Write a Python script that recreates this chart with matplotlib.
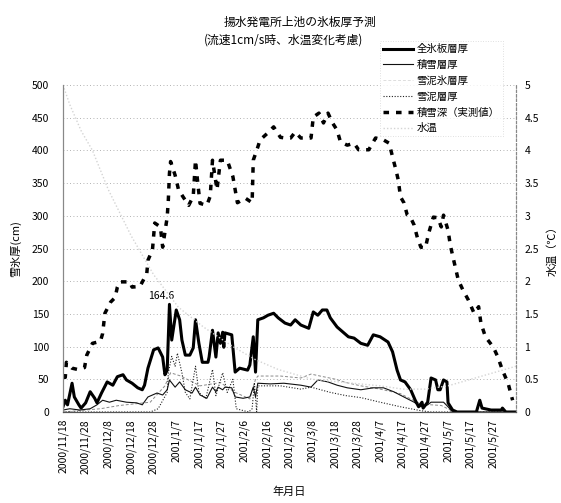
import matplotlib.pyplot as plt
from matplotlib.lines import Line2D

plt.rcParams['font.family'] = ['Noto Sans CJK JP', 'DejaVu Sans']

# days counted from 2000/11/18
tick_days = list(range(0, 200, 10))
tick_labels = ['2000/11/18', '2000/11/28', '2000/12/8', '2000/12/18', '2000/12/28',
               '2001/1/7', '2001/1/17', '2001/1/27', '2001/2/6', '2001/2/16',
               '2001/2/26', '2001/3/8', '2001/3/18', '2001/3/28', '2001/4/7',
               '2001/4/17', '2001/4/27', '2001/5/7', '2001/5/17', '2001/5/27']

# 全氷板層厚 (cm)
ice_days = [0, 1, 2, 4, 5, 7, 8, 10, 12, 14, 15, 17, 19.5, 22, 24, 26.5, 28, 30.5, 33, 35,
            36, 37.5, 40, 42, 44, 45, 46, 47, 48, 50, 51.5, 52.5, 54, 56, 57.5, 58.5, 60,
            61.5, 64, 64.5, 66, 67.5, 68.5, 69.5, 70.5, 71, 71.5, 74.5, 76, 78, 81.5, 82.5,
            84, 85, 86, 88.5, 90.5, 93, 95, 98, 100.5, 102.5, 105, 108.5, 110.5, 112.5,
            114.5, 116.5, 118, 121, 124, 126, 128.5, 131.5, 134.5, 137, 140, 143.5, 145.5,
            147.5, 149, 151, 153.5, 155.5, 157, 158.5, 159, 161, 162.5, 164.5, 165.5, 166.5,
            168, 169.5, 170, 172, 174, 182.5, 184, 185, 189, 193.5, 194, 195.5, 200]
ice_vals = [8, 18, 11, 44, 23, 11, 6, 14, 31, 21, 14, 29, 46, 41, 54, 57, 49, 44, 37, 34,
            41, 67, 95, 98, 84, 57, 64, 164.6, 110, 156, 141, 110, 87, 87, 98, 141, 105,
            76, 76, 84, 125, 84, 121, 105, 122, 99, 121, 118, 61, 67, 64, 72,
            115, 61, 141, 144, 148, 151, 144, 136, 133, 141, 133, 128, 153, 148,
            156, 156, 144, 130, 121, 115, 113, 105, 102, 118, 115, 107, 92,
            64, 49, 46, 34, 18, 8, 15, 6, 15, 52, 49, 34, 34,
            49, 46, 14, 3, 0, 0, 18, 6, 3, 3, 6, 0, 0]

# 積雪層厚 (cm)
snow_days = [0, 3, 7.5, 12, 15, 17.5, 20.5, 23.5, 28, 32.5, 35, 37.5, 41.5, 44, 46, 47, 49.5,
             51.5, 54, 57, 58.5, 60.5, 63.5, 66, 67.5, 68.5, 70.5, 71.5, 74.5, 76, 79.5, 82.5,
             84, 85, 86, 91.5, 97.5, 105, 109.5, 112.5, 117, 121, 125.5, 131.5, 137, 141.5,
             146, 150.5, 155, 158, 161, 162.5, 168, 170, 172, 200]
snow_vals = [3, 5, 3, 5, 11, 18, 15, 18, 15, 14, 11, 23, 29, 26, 34, 49, 38,
             46, 34, 29, 38, 26, 21, 38, 31, 38, 34, 38, 37, 23, 21, 23,
             38, 23, 44, 43, 44, 41, 38, 49, 46, 41, 37, 34, 37, 37,
             31, 23, 15, 8, 11, 15, 15, 8, 0, 0]

# 雪泥氷層厚 (cm)
slush_ice_days = [0, 16.5, 25, 38.5, 45, 47.5, 52, 60.5, 69.5, 76, 82.5, 85, 86, 96, 105,
                  109.5, 113.5, 120.5, 125, 131.5, 140, 149, 158, 167, 171, 173.5, 200]
slush_ice_vals = [0, 5, 10, 15, 40, 60, 55, 40, 45, 30, 20, 50, 55, 55, 52,
                  58, 55, 50, 45, 40, 35, 28, 12, 10, 3, 0, 0]

# 雪泥層厚 (cm)
slush_days = [0, 38.5, 42, 46, 46.5, 48, 49.5, 50.5, 52.5, 54, 56, 58.5, 60, 63, 66, 67.5,
              70.5, 72.5, 75, 76.5, 82, 83.5, 84.5, 85.5, 86, 96, 105, 109.5, 118, 125,
              131.5, 140, 149, 158, 162.5, 200]
slush_vals = [0, 0, 5, 30, 60, 85, 70, 90, 60, 30, 20, 70, 30, 20, 65, 25,
              60, 30, 50, 5, 0, 5, 45, 0, 40, 40, 35, 38, 30, 25,
              22, 15, 8, 2, 0, 0]

# 積雪深（実測値） (cm)
depth_days = [0, 1, 1.5, 4, 6.5, 9.5, 10.5, 13, 16.5, 17.5, 18.5, 21, 23, 24, 25, 29.5, 30.5,
              34, 37, 37.5, 39.5, 40.5, 43, 44, 46, 46.5, 47, 47.5, 49.5, 51, 53, 55.5, 57.5,
              58.5, 59.5, 60.5, 63.5, 65, 66, 68, 69.5, 72.5, 75, 77, 80.5, 83.5, 84, 86, 87,
              90.5, 93, 96, 98, 100.5, 102.5, 105, 109.5, 110.5, 113, 115, 117, 119, 121,
              122.5, 125.5, 128.5, 130.5, 135, 138, 141.5, 144, 145.5, 147, 148, 149, 150.5,
              152, 153.5, 155, 156.5, 158, 160, 161.5, 163.5, 165.5, 167, 168, 170, 171,
              172.5, 174.5, 176.5, 179, 181.5, 183.5, 184.5, 186.5, 190, 192, 194, 196.5, 198.5]
depth_vals = [53, 53, 76, 67, 65, 68, 87, 105, 108, 120, 151, 168, 175, 191, 199, 199, 191,
              192, 212, 232, 248, 289, 283, 252, 298, 324, 365, 383, 362, 340, 329, 316, 330,
              385, 350, 319, 316, 330, 385, 340, 385, 385, 360, 320, 327, 320, 385, 405, 416,
              427, 436, 420, 419, 419, 428, 419, 419, 451, 457, 442, 457, 442, 431,
              413, 408, 411, 401, 401, 419, 416, 411, 390, 370, 355, 329, 320,
              301, 297, 286, 266, 252, 251, 274, 298, 297, 283, 301, 278, 255,
              232, 202, 187, 171, 151, 161, 136, 115, 99, 84, 64, 44, 18]

# 水温 (℃)
temp_days = [0, 3, 8, 13, 20, 30, 40, 51, 62, 75, 85, 95, 100, 110, 125, 140, 150, 160,
             170, 180, 190, 200]
temp_vals = [5.0, 4.7, 4.3, 4.0, 3.4, 2.7, 2.1, 1.6, 1.3, 1.0, 0.8, 0.65, 0.6, 0.5, 0.45,
             0.4, 0.35, 0.35, 0.4, 0.5, 0.6, 0.7]

fig = plt.figure(figsize=(5.61, 5.03), dpi=100)
ax = fig.add_axes([0.1123, 0.1809, 0.8075, 0.6501])
ax2 = ax.twinx()

for v in range(50, 501, 50):
    ax.axhline(v, color='#999999', linestyle=(0, (1, 3)), linewidth=0.6, zorder=0)

ax2.plot(temp_days, temp_vals, color='#d4d4d4', linestyle=(0, (1, 1.5)), linewidth=1.0)
ax.plot(slush_ice_days, slush_ice_vals, color='#8a8a8a', linestyle=(0, (3, 2)), linewidth=0.7)
ax.plot(slush_days, slush_vals, color='#222222', linestyle=(0, (1, 1.5)), linewidth=0.8)
ax.plot(snow_days, snow_vals, color='#111111', linewidth=0.8)
ax.plot(ice_days, ice_vals, color='black', linewidth=2.2)
ax.plot(depth_days, depth_vals, color='black', linewidth=2.5, linestyle=(0, (1.6, 2.0)))

peak = ice_vals.index(max(ice_vals))
ax.annotate(f'{ice_vals[peak]:.1f}', (ice_days[peak], ice_vals[peak]),
            xytext=(-8, 3), textcoords='offset pixels', ha='center', va='bottom', fontsize=7.5)

ax.set_xlim(0, 200)
ax.set_ylim(0, 500)
ax2.set_ylim(0, 5)
ax.set_xticks(tick_days)
ax.set_xticklabels(tick_labels, rotation=90, fontsize=7.5)
ax.set_yticks(range(0, 501, 50))
ax.tick_params(axis='y', labelsize=7.5, length=0, pad=10)
ax.tick_params(axis='x', length=0, pad=5)
r_ticks = [i * 0.5 for i in range(11)]
ax2.set_yticks(r_ticks)
ax2.set_yticklabels([f'{v:g}' for v in r_ticks], fontsize=7.5)
ax2.tick_params(axis='y', length=0, pad=6)

for a in (ax, ax2):
    a.spines['top'].set_visible(False)
    a.spines['left'].set_color('#888888')
    a.spines['right'].set_color('#888888')
    a.spines['right'].set_linestyle((0, (2, 2)))
    a.spines['bottom'].set_color('#555555')

ax.set_ylabel('雪氷厚(cm)', fontsize=8, labelpad=8)
ax2.set_ylabel('水温（℃）', fontsize=8, labelpad=6)
ax.set_xlabel('年月日', fontsize=8, labelpad=9)

fig.text(0.535, 0.955, '揚水発電所上池の氷板厚予測', ha='center', va='center', fontsize=8.5)
fig.text(0.505, 0.92, '(流速1cm/s時、水温変化考慮)', ha='center', va='center', fontsize=8.5)

handles = [
    Line2D([], [], color='black', linewidth=2.2),
    Line2D([], [], color='#111111', linewidth=0.8),
    Line2D([], [], color='#dddddd', linewidth=0.7, linestyle=(0, (3, 2))),
    Line2D([], [], color='#222222', linewidth=0.8, linestyle=(0, (1, 1.5))),
    Line2D([], [], color='black', linewidth=2.5, linestyle=(0, (1.6, 2.0))),
    Line2D([], [], color='#d4d4d4', linewidth=1.0, linestyle=(0, (1, 1.5))),
]
labels = ['全氷板層厚', '積雪層厚', '雪泥氷層厚', '雪泥層厚', '積雪深（実測値）', '水温']
leg = ax2.legend(handles, labels, loc='upper left', bbox_to_anchor=(375 / 561, 1 - 36 / 503),
                 bbox_transform=fig.transFigure, fontsize=7.5, handlelength=2.8,
                 labelspacing=0.55, borderpad=0.3, handletextpad=0.4, frameon=True,
                 fancybox=False)
leg.get_frame().set_edgecolor('#cccccc')
leg.get_frame().set_linestyle((0, (1, 2)))
leg.get_frame().set_linewidth(0.6)

fig.savefig('out.png', dpi=100)
